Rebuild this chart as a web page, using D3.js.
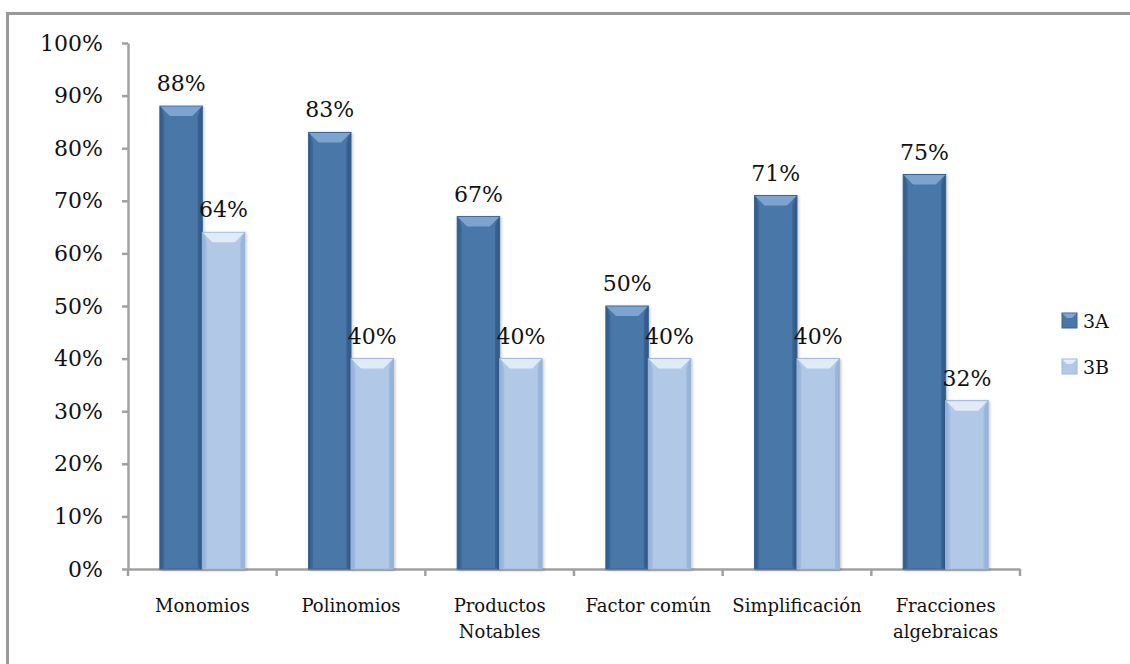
<!DOCTYPE html>
<html>
<head>
<meta charset="utf-8">
<script src="https://cdn.jsdelivr.net/npm/d3@7"></script>
<style>
  html, body { margin: 0; padding: 0; background: #fff; }
  svg { display: block; }
  text { font-family: "DejaVu Serif", "Liberation Serif", serif; fill: #111; }
</style>
</head>
<body>
<svg id="chart" width="1130" height="664"></svg>
<script>
// Categories (multi-line labels split on "\n")
const categories = ["Monomios", "Polinomios", "Productos\nNotables", "Factor común", "Simplificación", "Fracciones\nalgebraicas"];
const seriesNames = ["3A", "3B"];
const values3A = [88, 83, 67, 50, 71, 75];
const values3B = [64, 40, 40, 40, 40, 32];
const yTicks = [0, 10, 20, 30, 40, 50, 60, 70, 80, 90, 100];

const palette = {
  "3A": { main: "#4a77a8", light: "#81a6d0", edge: "#2f5987", stroke: "#3b6594" },
  "3B": { main: "#b2c8e7", light: "#e4edf9", edge: "#93b0d8", stroke: "#9db7dc" }
};

const svg = d3.select("#chart");
const W = 1130, H = 664;

// Outer frame (only its top and left edges fall inside the view)
svg.append("rect")
  .attr("x", 7.5).attr("y", 13.5)
  .attr("width", W + 20).attr("height", H + 20)
  .attr("fill", "#fff").attr("stroke", "#999").attr("stroke-width", 3);

const plot = { left: 128, right: 1020, top: 43, bottom: 569 };

const x0 = d3.scaleBand().domain(categories).range([plot.left, plot.right]).paddingInner(0).paddingOuter(0);
// Bars occupy the centre of each band with a 150% gap width
const barW = x0.bandwidth() / 3.5;
const x1 = d3.scaleBand().domain(seriesNames).range([0, barW * 2]);
const y = d3.scaleLinear().domain([0, 100]).range([plot.bottom, plot.top]);

const defs = svg.append("defs");
seriesNames.forEach(s => {
  const g = defs.append("linearGradient").attr("id", "grad" + s).attr("x1", 0).attr("x2", 1).attr("y1", 0).attr("y2", 0);
  g.append("stop").attr("offset", "0%").attr("stop-color", palette[s].edge);
  g.append("stop").attr("offset", "10%").attr("stop-color", palette[s].main);
  g.append("stop").attr("offset", "88%").attr("stop-color", palette[s].main);
  g.append("stop").attr("offset", "100%").attr("stop-color", palette[s].edge);
});
const shadow = defs.append("filter").attr("id", "shadow").attr("x", "-20%").attr("y", "-5%").attr("width", "140%").attr("height", "110%");
shadow.append("feDropShadow").attr("dx", 1).attr("dy", 1).attr("stdDeviation", 1.5).attr("flood-color", "#000").attr("flood-opacity", 0.25);

// Y axis
const yAxis = d3.axisLeft(y).tickValues(yTicks).tickSize(6).tickSizeOuter(0).tickFormat(d => d + "%");
const gy = svg.append("g").attr("transform", `translate(${plot.left},0)`).call(yAxis);
gy.select(".domain").attr("stroke", "#a0a0a0").attr("stroke-width", 2.5);
gy.selectAll(".tick line").attr("stroke", "#a0a0a0").attr("stroke-width", 2.5);
gy.selectAll(".tick text").attr("x", -25).attr("font-size", 22).attr("fill", "#111")
  .attr("font-family", "DejaVu Serif, serif");

// X axis
const xAxis = d3.axisBottom(x0).tickSize(0).tickSizeOuter(0).tickFormat("");
const gx = svg.append("g").attr("transform", `translate(0,${plot.bottom})`).call(xAxis);
gx.select(".domain").attr("stroke", "#a0a0a0").attr("stroke-width", 2.5);
// Boundary ticks between categories
const boundaries = categories.map(c => x0(c)).concat([plot.right]);
gx.selectAll(".bound").data(boundaries).join("line")
  .attr("x1", d => d).attr("x2", d => d).attr("y1", 0).attr("y2", 7)
  .attr("stroke", "#a0a0a0").attr("stroke-width", 2.5);

// Category labels
const catLabels = svg.append("g");
categories.forEach(c => {
  const lines = c.split("\n");
  const t = catLabels.append("text")
    .attr("x", x0(c) + x0.bandwidth() / 2)
    .attr("y", 612)
    .attr("text-anchor", "middle")
    .attr("font-size", 18);
  lines.forEach((ln, i) => {
    t.append("tspan").attr("x", x0(c) + x0.bandwidth() / 2).attr("dy", i === 0 ? 0 : 26).text(ln);
  });
});

// Bars
const rows = categories.map((c, i) => ({ cat: c, vals: [{ s: "3A", v: values3A[i] }, { s: "3B", v: values3B[i] }] }));
const groups = svg.append("g").selectAll("g").data(rows).join("g")
  .attr("transform", d => `translate(${x0(d.cat) + (x0.bandwidth() - barW * 2) / 2},0)`);

function drawBar(sel, d) {
  const bx = x1(d.s), by = y(d.v), bw = x1.bandwidth(), bh = y(0) - y(d.v);
  const p = palette[d.s];
  const b = Math.min(10, bh / 2);
  sel.append("rect").attr("x", bx).attr("y", by).attr("width", bw).attr("height", bh)
    .attr("fill", `url(#grad${d.s})`).attr("stroke", p.stroke).attr("stroke-width", 1)
    .attr("filter", "url(#shadow)");
  // top bevel
  sel.append("path")
    .attr("d", `M${bx + 0.5},${by + 0.5} L${bx + bw - 0.5},${by + 0.5} L${bx + bw - b},${by + b} L${bx + b},${by + b} Z`)
    .attr("fill", p.light).attr("opacity", 0.95);
  // side bevels
  sel.append("path")
    .attr("d", `M${bx + 0.5},${by + 0.5} L${bx + b * 0.45},${by + b} L${bx + b * 0.45},${by + bh - 2} L${bx + 0.5},${by + bh} Z`)
    .attr("fill", p.edge).attr("opacity", 0.5);
  sel.append("path")
    .attr("d", `M${bx + bw - 0.5},${by + 0.5} L${bx + bw - b * 0.45},${by + b} L${bx + bw - b * 0.45},${by + bh - 2} L${bx + bw - 0.5},${by + bh} Z`)
    .attr("fill", p.edge).attr("opacity", 0.6);
}

groups.each(function (row) {
  const g = d3.select(this);
  row.vals.forEach(d => drawBar(g.append("g"), d));
  row.vals.forEach(d => {
    g.append("text")
      .attr("x", x1(d.s) + x1.bandwidth() / 2)
      .attr("y", y(d.v) - 15)
      .attr("text-anchor", "middle")
      .attr("font-size", 22)
      .text(d.v + "%");
  });
});

// Legend
const legend = svg.append("g").attr("transform", "translate(1062,313)");
seriesNames.forEach((s, i) => {
  const lg = legend.append("g").attr("transform", `translate(0,${i * 46})`);
  const p = palette[s];
  lg.append("rect").attr("width", 15).attr("height", 15).attr("fill", p.main).attr("stroke", p.stroke);
  lg.append("path").attr("d", "M0.5,0.5 L14.5,0.5 L10,5 L5,5 Z").attr("fill", p.light);
  lg.append("text").attr("x", 21).attr("y", 15).attr("font-size", 19).text(s);
});
</script>
</body>
</html>
